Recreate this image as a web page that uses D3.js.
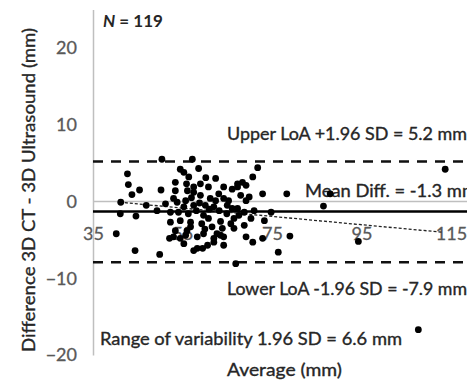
<!DOCTYPE html>
<html>
<head>
<meta charset="utf-8">
<script src="https://cdn.jsdelivr.net/npm/d3@7/dist/d3.min.js"></script>
<style>
  body { margin: 0; background: #fff; }
  text { font-family: Lato, "Liberation Sans", sans-serif; }
</style>
</head>
<body>
<div id="chart"></div>
<script>
// Bland-Altman: average of the two methods vs. their difference
const avgVals = [50.4, 42.7, 42.9, 43.7, 45.4, 50.2, 41.2, 41.1, 44.6, 46.9,
  49.3, 51.2, 40.2, 44.4, 49.9, 52.3, 52.1, 54.5, 55.3, 57.2,
  56.4, 58.6, 53.4, 53.4, 56.1, 57.5, 59.0, 53.0, 53.8, 55.3,
  57.5, 54.5, 56.8, 56.8, 53.4, 55.7, 53.0, 58.3, 55.3, 58.3,
  57.5, 59.0, 60.8, 64.2, 66.1, 61.2, 64.2, 60.1, 62.0, 66.1,
  59.7, 60.8, 59.3, 61.6, 59.7, 62.7, 64.2, 62.0, 55.7, 63.2,
  67.3, 57.5, 59.5, 60.6, 62.0, 64.2, 63.9, 65.8, 63.5, 54.5,
  71.8, 70.7, 68.4, 69.2, 67.3, 72.9, 78.3, 69.2, 69.9, 67.3,
  68.8, 71.0, 74.8, 73.3, 66.5, 68.8, 66.5, 69.2, 70.7, 72.9,
  79.0, 76.4, 66.9, 113.7, 88.0, 86.5, 94.3, 107.7, 56.3, 58.1,
  54.1, 62.4, 63.1, 64.9, 68.0, 67.6, 52.3, 55.9, 60.2, 62.4,
  65.3, 70.3, 58.8, 61.0, 57.0, 63.5, 60.0, 65.0, 56.0];
const diffVals = [5.5, 3.6, 2.2, 0.9, 1.5, 1.5, -0.1, -1.6, -1.9, -0.5,
  -1.2, -0.3, -4.2, -6.4, -6.9, -2.7, -4.8, 4.2, 3.8, 5.5,
  3.2, 4.3, 2.5, 1.4, 1.4, 1.2, 0.8, 0.4, -0.1, -0.7,
  -0.5, -2.5, -2.7, -3.3, -3.8, -4.4, -4.6, -4.6, -5.5, -6.1,
  1.9, 2.3, 1.9, 1.9, 1.6, 0.4, 0.4, -0.5, -0.7, -0.9,
  -1.8, -2.2, -2.9, -3.3, -4.2, -4.2, -4.6, -4.8, 0.1, -1.2,
  2.3, -6.4, -6.1, -5.7, -5.3, -5.7, -3.5, -2.9, -4.4, -4.8,
  4.4, 3.2, 2.5, 2.1, 1.9, 1.0, 1.0, 0.1, 0.6, -0.9,
  -1.4, -1.2, -1.4, -2.5, -2.2, -3.1, -3.5, -4.6, -5.3, -4.8,
  -4.5, -6.6, -8.1, 4.2, 1.0, -0.6, -5.2, -16.7, -1.6, -1.2,
  -1.4, 0.1, 1.0, -1.6, 0.8, -1.8, -1.4, 2.3, 3.1, 3.0,
  0.1, -2.2, -0.2, -1.0, 0.5, -2.6, -3.6, -0.5, -3.8];

const meanDiff = -1.3;
const upperLoA = 5.2;
const lowerLoA = -7.9;
const trendX = [41, 113];
const trendY = [-0.1, -4.0];

const xTicks = [35, 55, 75, 95, 115];
const yTicks = [-20, -10, 0, 10, 20];

const w = 467;
const h = 380;

const points = avgVals.map((a, i) => [a, diffVals[i]]);

const xScale = d3.scaleLinear().domain([35, 115]).range([93, 451]);
const yScale = d3.scaleLinear().domain([-20, 25]).range([355, 9.6]);
const xEnd = xScale.invert(w);

const svg = d3.select("#chart")
              .append("svg")
              .attr("width", w)
              .attr("height", h);

// horizontal axis line at zero
svg.append("line")
   .attr("x1", xScale(35)).attr("x2", xScale(xEnd))
   .attr("y1", yScale(0)).attr("y2", yScale(0))
   .attr("stroke", "#bfbfbf")
   .attr("stroke-width", 1.5);

const xAxis = d3.axisBottom(xScale).tickValues(xTicks).tickSize(0).tickPadding(26);
svg.append("g")
   .attr("transform", "translate(0," + yScale(0) + ")")
   .call(xAxis)
   .call(g => g.select(".domain").remove())
   .selectAll("text")
   .attr("font-size", 18)
   .attr("font-family", "Lato, 'Liberation Sans', sans-serif")
   .attr("fill", "#595959")
   .attr("stroke", "#595959")
   .attr("stroke-width", 0.3);

const yAxis = d3.axisLeft(yScale).tickValues(yTicks).tickSize(0).tickPadding(16);
const gy = svg.append("g")
   .attr("transform", "translate(" + xScale(35) + ",0)")
   .call(yAxis);
gy.select(".domain").attr("stroke", "#bfbfbf").attr("stroke-width", 1.5);
gy.selectAll("text")
  .attr("font-size", 18)
  .attr("font-family", "Lato, 'Liberation Sans', sans-serif")
  .attr("fill", "#595959")
  .attr("stroke", "#595959")
  .attr("stroke-width", 0.3);

// limits of agreement and mean difference
[upperLoA, lowerLoA].forEach(v => {
  svg.append("line")
     .attr("x1", xScale(35)).attr("x2", xScale(xEnd))
     .attr("y1", yScale(v)).attr("y2", yScale(v))
     .attr("stroke", "#111")
     .attr("stroke-width", 2.5)
     .attr("stroke-dasharray", "10,8");
});

svg.append("line")
   .attr("x1", xScale(35)).attr("x2", xScale(xEnd))
   .attr("y1", yScale(meanDiff)).attr("y2", yScale(meanDiff))
   .attr("stroke", "#000")
   .attr("stroke-width", 2.6);

svg.append("line")
   .attr("x1", xScale(trendX[0])).attr("x2", xScale(trendX[1]))
   .attr("y1", yScale(trendY[0])).attr("y2", yScale(trendY[1]))
   .attr("stroke", "#222")
   .attr("stroke-width", 1.3)
   .attr("stroke-dasharray", "3,2");

// annotations
const labels = [
  { t: "Upper LoA +1.96 SD = 5.2 mm", x: 227, y: 140, len: 240 },
  { t: "Mean Diff. = -1.3 mm", x: 305, y: 197, len: 172 },
  { t: "Lower LoA -1.96 SD = -7.9 mm", x: 227, y: 295, len: 240 },
  { t: "Range of variability 1.96 SD = 6.6 mm", x: 100, y: 345, len: 302 },
  { t: "Average (mm)", x: 227, y: 376, len: 115 }
];
svg.selectAll(".note")
   .data(labels)
   .enter()
   .append("text")
   .attr("class", "note")
   .attr("x", d => d.x)
   .attr("y", d => d.y)
   .attr("font-size", 17)
   .attr("fill", "#262626")
   .attr("stroke", "#262626")
   .attr("stroke-width", 0.35)
   .attr("textLength", d => d.len)
   .attr("lengthAdjust", "spacingAndGlyphs")
   .text(d => d.t);

svg.append("text")
   .attr("transform", "translate(35,190) rotate(-90)")
   .attr("text-anchor", "middle")
   .attr("font-size", 17)
   .attr("fill", "#262626")
   .attr("stroke", "#262626")
   .attr("stroke-width", 0.35)
   .attr("textLength", 324)
   .attr("lengthAdjust", "spacingAndGlyphs")
   .text("Difference 3D CT - 3D Ultrasound (mm)");

const nText = svg.append("text")
   .attr("x", 103)
   .attr("y", 27)
   .attr("font-size", 17)
   .attr("font-weight", "bold")
   .attr("fill", "#262626");
nText.append("tspan").attr("font-style", "italic").text("N");
nText.append("tspan").text(" = 119");

// data points
svg.selectAll("circle")
   .data(points)
   .enter()
   .append("circle")
   .attr("cx", d => xScale(d[0]))
   .attr("cy", d => yScale(d[1]))
   .attr("r", 3.4)
   .attr("fill", "#000");
</script>
</body>
</html>
